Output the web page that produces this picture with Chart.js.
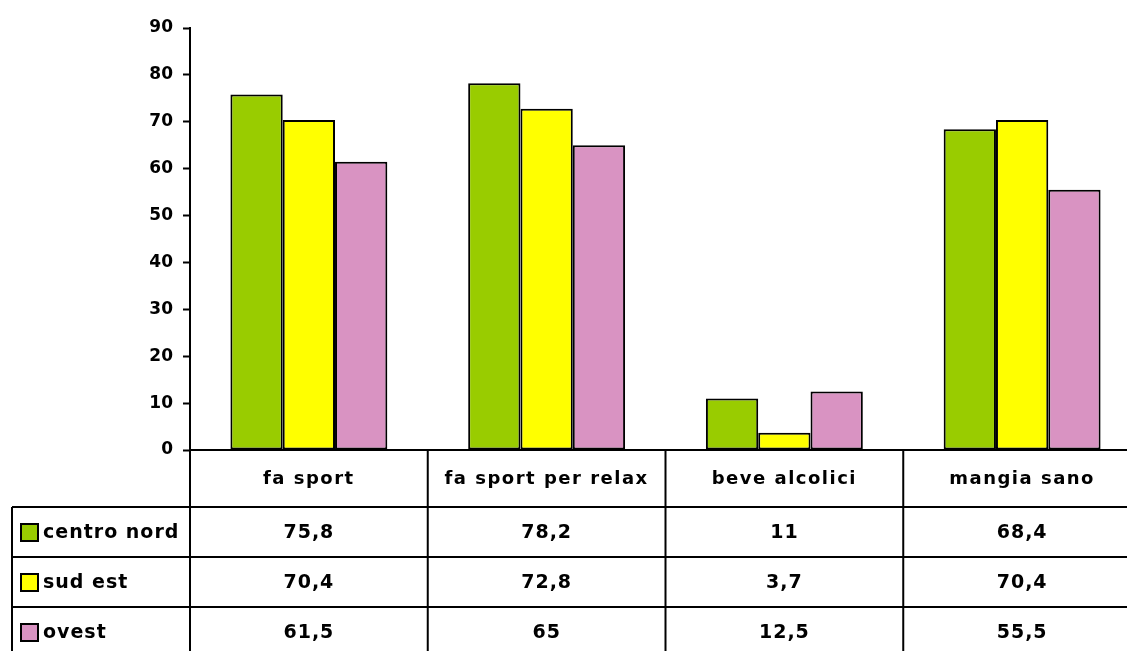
<!DOCTYPE html>
<html>
<head>
<meta charset="utf-8">
<script src="https://cdn.jsdelivr.net/npm/chart.js@4/dist/chart.umd.min.js"></script>
<style>
  html, body { margin: 0; padding: 0; background: #fff; overflow: hidden; }
</style>
</head>
<body>
<canvas id="chart" width="1145" height="651"></canvas>
<script>
const categories = ['fa sport', 'fa sport per relax', 'beve alcolici', 'mangia sano'];
const seriesNames = ['centro nord', 'sud est', 'ovest'];
const centroNord = [75.8, 78.2, 11, 68.4];
const sudEst = [70.4, 72.8, 3.7, 70.4];
const ovest = [61.5, 65, 12.5, 55.5];
const seriesColors = ['#99CC00', '#FFFF00', '#D993C2'];
const yMax = 90;
const yStep = 10;

const FONT = '"DejaVu Sans", sans-serif';
const fmt = v => String(v).replace('.', ',');

// draws the data table under the plot, columns taken from the x scale
const dataTable = {
  id: 'dataTable',
  afterDraw(chart) {
    const ctx = chart.ctx;
    const area = chart.chartArea;
    const xs = chart.scales.x;
    const half = (xs.getPixelForValue(1) - xs.getPixelForValue(0)) / 2;
    const headerBottom = area.bottom + 57;
    const rowH = 50;
    const rowsLeft = 12;
    const right = xs.getPixelForValue(categories.length - 1) + half;
    const bottom = headerBottom + rowH * chart.data.datasets.length;

    ctx.save();
    ctx.strokeStyle = '#000';
    ctx.lineWidth = 2;
    ctx.beginPath();
    for (let i = 0; i <= categories.length; i++) {
      const x = (i < categories.length ? xs.getPixelForValue(i) - half : right);
      ctx.moveTo(x, area.bottom);
      ctx.lineTo(x, bottom);
    }
    ctx.moveTo(rowsLeft, headerBottom);
    ctx.lineTo(rowsLeft, bottom);
    for (let r = 0; r <= chart.data.datasets.length; r++) {
      const y = headerBottom + r * rowH;
      ctx.moveTo(rowsLeft, y);
      ctx.lineTo(right, y);
    }
    ctx.stroke();

    ctx.fillStyle = '#000';
    ctx.textBaseline = 'middle';
    ctx.letterSpacing = '1.5px';
    ctx.font = 'bold 18px ' + FONT;
    ctx.textAlign = 'center';
    categories.forEach((c, i) => {
      ctx.fillText(c, xs.getPixelForValue(i), area.bottom + 29);
    });

    ctx.letterSpacing = '1px';
    ctx.font = 'bold 19px ' + FONT;
    chart.data.datasets.forEach((ds, r) => {
      const cy = headerBottom + r * rowH + rowH / 2;
      ctx.fillStyle = ds.backgroundColor;
      ctx.fillRect(rowsLeft + 9, cy - 8, 17, 17);
      ctx.lineWidth = 2;
      ctx.strokeRect(rowsLeft + 9, cy - 8, 17, 17);
      ctx.fillStyle = '#000';
      ctx.textAlign = 'left';
      ctx.fillText(ds.label, rowsLeft + 31, cy + 1);
      ctx.textAlign = 'center';
      ds.data.forEach((v, i) => {
        ctx.fillText(fmt(v), xs.getPixelForValue(i), cy + 1);
      });
    });
    ctx.restore();
  }
};

const seriesValues = [centroNord, sudEst, ovest];

new Chart(document.getElementById('chart'), {
  type: 'bar',
  data: {
    labels: categories,
    datasets: seriesNames.map((name, i) => ({
      label: name,
      data: seriesValues[i],
      backgroundColor: seriesColors[i],
      borderColor: '#000',
      borderWidth: 2,
      borderSkipped: false,
      categoryPercentage: 0.66,
      barPercentage: 1
    }))
  },
  options: {
    responsive: false,
    animation: false,
    layout: { padding: { top: 28, right: 4, bottom: 201, left: 0 } },
    scales: {
      x: {
        ticks: { display: false },
        grid: { display: false },
        border: { color: '#000', width: 2 },
        afterFit: s => { s.height = 0; }
      },
      y: {
        min: 0,
        max: yMax,
        ticks: {
          stepSize: yStep,
          color: '#000',
          padding: 10,
          font: { family: FONT, size: 17, weight: 'bold' }
        },
        grid: {
          drawOnChartArea: false,
          drawTicks: true,
          tickLength: 7,
          tickColor: '#000',
          tickWidth: 2
        },
        border: { color: '#000', width: 2 },
        afterFit: s => { s.width = 190; }
      }
    },
    plugins: {
      legend: { display: false },
      tooltip: { enabled: false }
    }
  },
  plugins: [dataTable]
});
</script>
</body>
</html>
